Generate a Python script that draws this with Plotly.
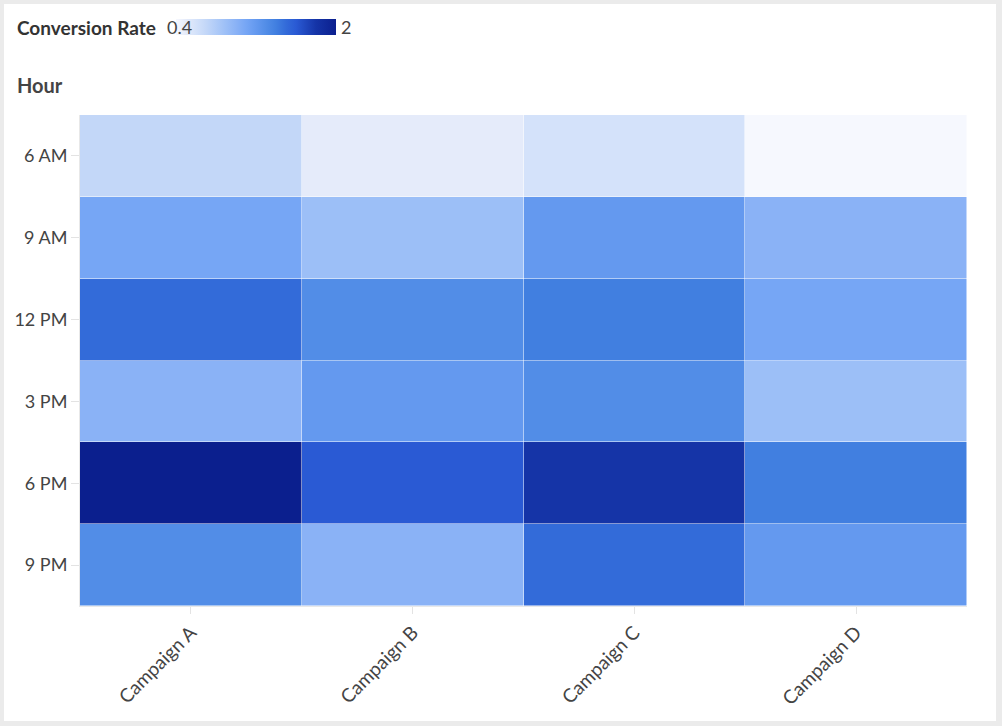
import plotly.graph_objects as go

campaigns = ["Campaign A", "Campaign B", "Campaign C", "Campaign D"]
hours = ["6 AM", "9 AM", "12 PM", "3 PM", "6 PM", "9 PM"]

# conversion rate per hour (rows) and campaign (columns)
rate_6am = [0.7, 0.5, 0.6, 0.4]
rate_9am = [1.1, 0.9, 1.2, 1.0]
rate_12pm = [1.5, 1.3, 1.4, 1.1]
rate_3pm = [1.0, 1.2, 1.3, 0.9]
rate_6pm = [2.0, 1.6, 1.8, 1.4]
rate_9pm = [1.3, 1.0, 1.5, 1.2]

z = [rate_6am, rate_9am, rate_12pm, rate_3pm, rate_6pm, rate_9pm]
zmin, zmax = 0.4, 2.0

colors = [
    (0.0, "#f6f8fe"), (0.0625, "#e5ebfa"), (0.125, "#d4e2fa"), (0.1875, "#c3d7f8"),
    (0.3125, "#9cbff7"), (0.375, "#8ab2f6"), (0.4375, "#76a6f5"), (0.5, "#6499ef"),
    (0.5625, "#528de7"), (0.625, "#417fe0"), (0.6875, "#336bd9"), (0.75, "#2a5ad4"),
    (0.875, "#1534a7"), (1.0, "#0b1f8e"),
]

font = "Lato, 'Open Sans', sans-serif"

W, H = 1002, 726
pl, pr, pt, pb = 80, 967, 115, 606
pw, ph = pr - pl, pb - pt


def px(x):
    return (x - pl) / pw


def py(y):
    return (pb - y) / ph


fig = go.Figure(go.Heatmap(
    x=campaigns, y=hours, z=z, zmin=zmin, zmax=zmax,
    colorscale=colors, xgap=0.5, ygap=0.5,
    colorbar=dict(
        orientation="h", xref="container", yref="container",
        x=199 / W, xanchor="left", y=1 - 27 / H, yanchor="middle",
        len=160, lenmode="pixels", thickness=16, xpad=0, ypad=0,
        outlinewidth=0, showticklabels=False, ticks="",
    ),
))

fig.update_layout(
    width=W, height=H,
    margin=dict(l=pl, r=W - pr, t=pt, b=H - pb),
    paper_bgcolor="#ebebeb", plot_bgcolor="white",
    font=dict(family=font, size=17, color="#444"),
    xaxis=dict(showgrid=False, ticks="outside", ticklen=7, tickcolor="#e3e3e3",
               tickangle=-45, showline=True, linecolor="#e8e8e8", automargin=False,
               tickfont=dict(size=19, color="#444")),
    yaxis=dict(showgrid=False, ticks="outside", ticklen=8, tickcolor="#e3e3e3",
               autorange="reversed", showline=True, linecolor="#e8e8e8", automargin=False,
               tickfont=dict(size=18, color="#444")),
    shapes=[dict(type="rect", xref="paper", yref="paper", layer="below",
                 x0=px(4), x1=px(996), y0=py(721), y1=py(4),
                 fillcolor="white", line=dict(width=0))],
    annotations=[
        dict(text="<b>Conversion Rate</b>", xref="paper", yref="paper",
             x=px(15), y=py(27), xanchor="left", yanchor="middle",
             showarrow=False, font=dict(size=19, color="#333")),
        dict(text=str(zmin), xref="paper", yref="paper",
             x=px(194), y=py(27), xanchor="right", yanchor="middle",
             showarrow=False, font=dict(size=18, color="#444")),
        dict(text="2", xref="paper", yref="paper",
             x=px(339), y=py(27), xanchor="left", yanchor="middle",
             showarrow=False, font=dict(size=18, color="#444")),
        dict(text="<b>Hour</b>", xref="paper", yref="paper",
             x=px(15), y=py(85), xanchor="left", yanchor="middle",
             showarrow=False, font=dict(size=20, color="#444")),
    ],
)

# drop the page's default body margin so the figure sits at the top-left corner
fig.write_html("out.html", config={"displayModeBar": False},
               post_script="document.body.style.margin='0';"
                           "document.body.style.background='#ebebeb';")
